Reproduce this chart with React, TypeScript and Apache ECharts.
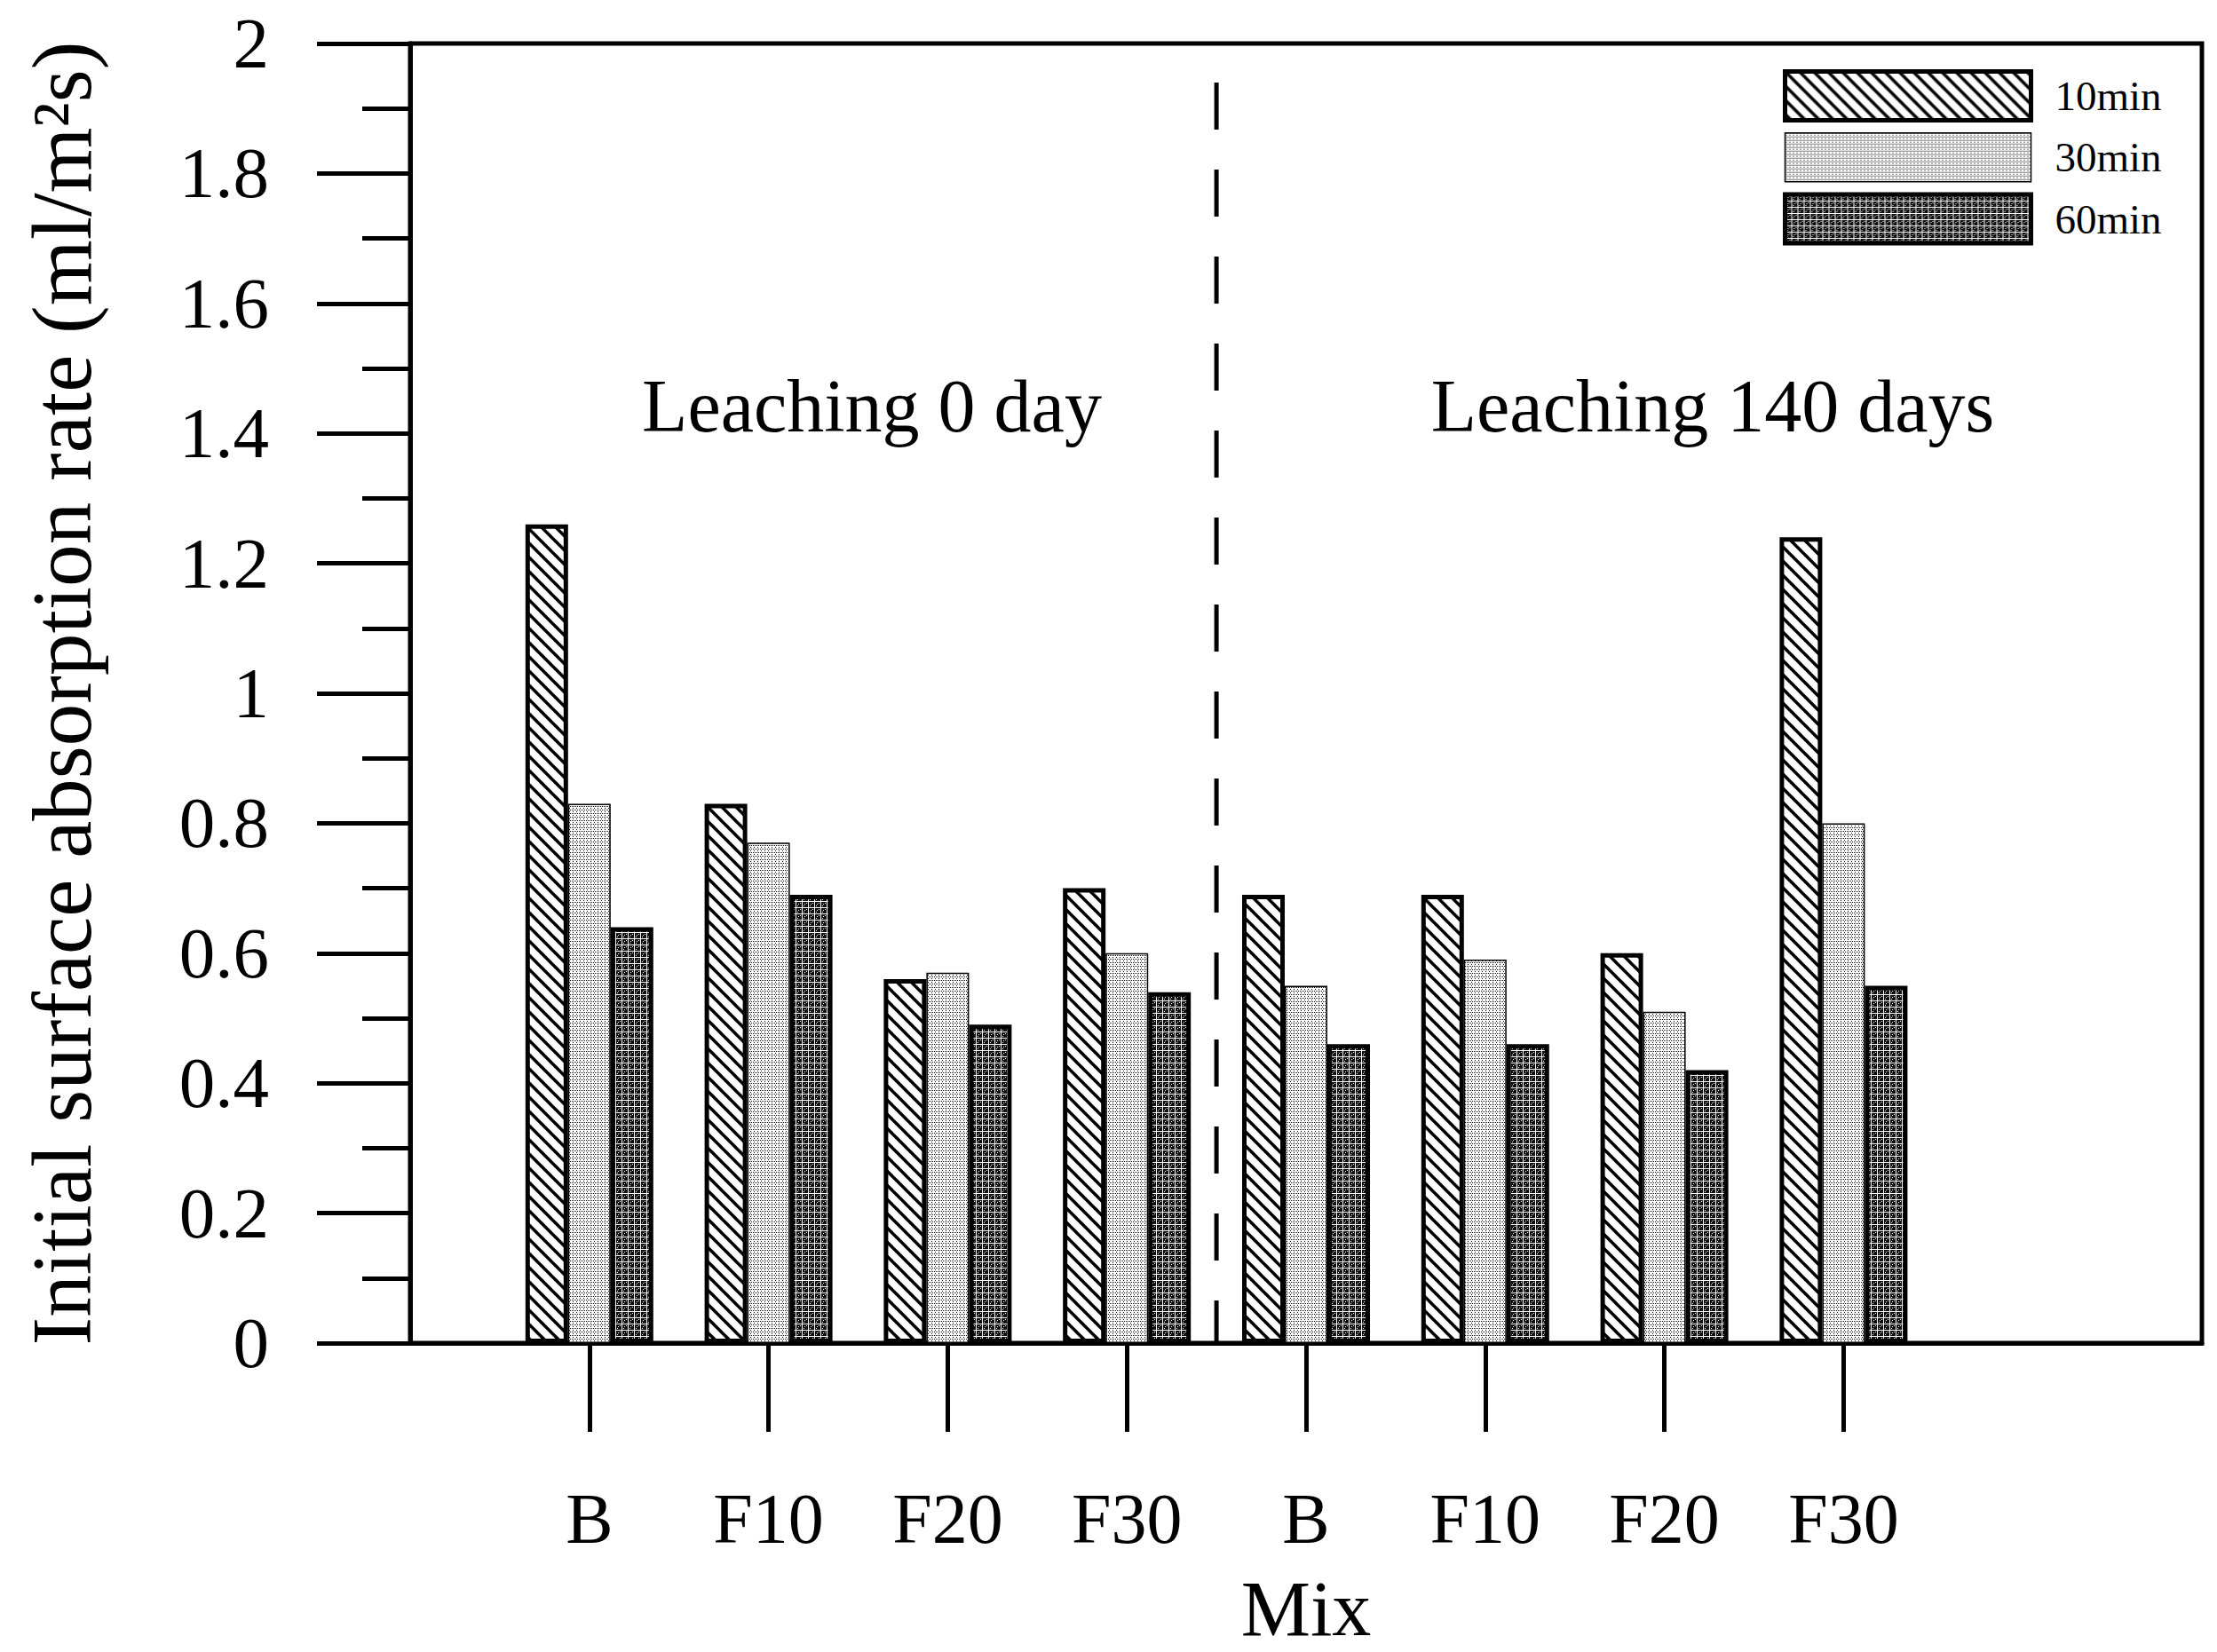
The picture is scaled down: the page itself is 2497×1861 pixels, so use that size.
import React, { useEffect, useRef } from 'react';
import * as echarts from 'echarts';

const categories = ['', 'B', 'F10', 'F20', 'F30', 'B', 'F10', 'F20', 'F30', '', ''];
const seriesNames = ['10min', '30min', '60min'];
const values10 = [null, 1.26, 0.83, 0.56, 0.70, 0.69, 0.69, 0.60, 1.24, null, null];
const values30 = [null, 0.83, 0.77, 0.57, 0.60, 0.55, 0.59, 0.51, 0.80, null, null];
const values60 = [null, 0.64, 0.69, 0.49, 0.54, 0.46, 0.46, 0.42, 0.55, null, null];
const dividerX = 4.5;
const dividerTop = 1.94;
const annotations = ['Leaching 0 day', 'Leaching 140 days'];
const yTitle = 'Initial surface absorption rate (ml/m\u00B2s)';
const xTitle = 'Mix';

function makePattern(size: number, draw: (ctx: CanvasRenderingContext2D) => void) {
  const c = document.createElement('canvas');
  c.width = size;
  c.height = size;
  const ctx = c.getContext('2d') as CanvasRenderingContext2D;
  draw(ctx);
  return { image: c, repeat: 'repeat', imageWidth: size, imageHeight: size } as any;
}

export default function App() {
  const ref = useRef<HTMLDivElement>(null);
  useEffect(() => {
    const chart = echarts.init(ref.current as HTMLDivElement, null, { renderer: 'svg' });
    const font = 'Liberation Serif';

    const hatch = makePattern(16, (ctx) => {
      ctx.fillStyle = '#fff';
      ctx.fillRect(0, 0, 16, 16);
      ctx.strokeStyle = '#000';
      ctx.lineWidth = 3.6;
      for (const k of [-16, 0, 16]) {
        ctx.beginPath();
        ctx.moveTo(k - 4, -4);
        ctx.lineTo(k + 20, 20);
        ctx.stroke();
      }
    });
    const dots = makePattern(4, (ctx) => {
      ctx.fillStyle = '#fff';
      ctx.fillRect(0, 0, 4, 4);
      ctx.fillStyle = '#000';
      ctx.fillRect(0, 0, 1, 1);
      ctx.fillRect(2, 0, 1, 1);
      ctx.fillRect(1, 2, 1, 1);
    });
    const dark = makePattern(7, (ctx) => {
      ctx.fillStyle = '#111';
      ctx.fillRect(0, 0, 7, 7);
      ctx.fillStyle = '#fff';
      ctx.fillRect(0, 0, 7, 1);
      ctx.fillRect(0, 0, 1, 7);
      ctx.fillRect(3, 3, 1, 1);
      ctx.fillRect(2, 5, 1, 1);
      ctx.fillRect(5, 2, 1, 1);
    });

    const fills = [hatch, dots, dark];
    const borders = [5, 1.5, 5];
    const zs = [4, 2, 3];
    const valueSets = [values10, values30, values60];

    const barSeries = seriesNames.map((name, i) => ({
      type: 'bar',
      name,
      data: valueSets[i],
      xAxisIndex: 0,
      yAxisIndex: 0,
      barWidth: 48,
      barGap: '0%',
      silent: true,
      z: zs[i],
      itemStyle: { color: fills[i], borderColor: '#000', borderWidth: borders[i] },
    }));

    chart.setOption({
      animation: false,
      backgroundColor: '#fff',
      textStyle: { fontFamily: font, color: '#000' },
      grid: {
        left: 462,
        right: 17,
        top: 49,
        bottom: 340,
        show: true,
        borderColor: '#000',
        borderWidth: 5,
        backgroundColor: 'transparent',
      },
      legend: {
        orient: 'vertical',
        left: 2008,
        top: 78,
        padding: 0,
        itemWidth: 277,
        itemHeight: 55,
        itemGap: 11,
        icon: 'rect',
        selectedMode: false,
        data: seriesNames.map((name, i) => ({
          name,
          itemStyle: { color: fills[i], borderColor: '#000', borderWidth: borders[i] },
        })),
        textStyle: { fontFamily: font, fontSize: 47, color: '#000', padding: [0, 0, 0, 22] },
      },
      xAxis: [
        {
          type: 'category',
          data: categories,
          boundaryGap: false,
          name: xTitle,
          nameLocation: 'middle',
          nameGap: 255,
          nameTextStyle: { fontSize: 88, fontFamily: font, color: '#000' },
          axisLine: { show: true, lineStyle: { color: '#000', width: 5 } },
          axisTick: {
            show: true,
            length: 100,
            lineStyle: { color: '#000', width: 5 },
            interval: (i: number, v: string) => v !== '',
          },
          axisLabel: { interval: 0, fontSize: 80, margin: 158, color: '#000', fontFamily: font },
          splitLine: { show: false },
        },
        { type: 'value', min: 0, max: categories.length - 1, show: false },
      ],
      yAxis: {
        type: 'value',
        min: 0,
        max: 2,
        interval: 0.2,
        name: yTitle,
        nameLocation: 'middle',
        nameGap: 345,
        nameTextStyle: { fontSize: 95, fontFamily: font, color: '#000' },
        axisLine: { show: true, lineStyle: { color: '#000', width: 5 } },
        axisTick: { show: true, length: 105, lineStyle: { color: '#000', width: 5 } },
        minorTick: { show: true, splitNumber: 2, length: 54, lineStyle: { color: '#000', width: 5 } },
        axisLabel: { fontSize: 81, margin: 159, color: '#000', fontFamily: font },
        splitLine: { show: false },
        minorSplitLine: { show: false },
      },
      series: [
        ...barSeries,
        {
          type: 'line',
          name: 'divider',
          xAxisIndex: 1,
          yAxisIndex: 0,
          data: [
            [dividerX, dividerTop],
            [dividerX, 0],
          ],
          symbol: 'none',
          silent: true,
          lineStyle: { color: '#000', width: 5, type: [53, 45], cap: 'butt' },
          z: 5,
        },
      ],
      graphic: [
        {
          type: 'text',
          x: 982,
          y: 457,
          style: {
            text: annotations[0],
            fontSize: 84,
            fontFamily: font,
            fill: '#000',
            align: 'center',
            verticalAlign: 'middle',
          },
        },
        {
          type: 'text',
          x: 1929,
          y: 457,
          style: {
            text: annotations[1],
            fontSize: 84,
            fontFamily: font,
            fill: '#000',
            align: 'center',
            verticalAlign: 'middle',
          },
        },
      ],
    });
    return () => chart.dispose();
  }, []);
  return (
    <div
      ref={ref}
      style={{ position: 'fixed', left: 0, top: 0, width: 2497, height: 1861, background: '#fff' }}
    />
  );
}
